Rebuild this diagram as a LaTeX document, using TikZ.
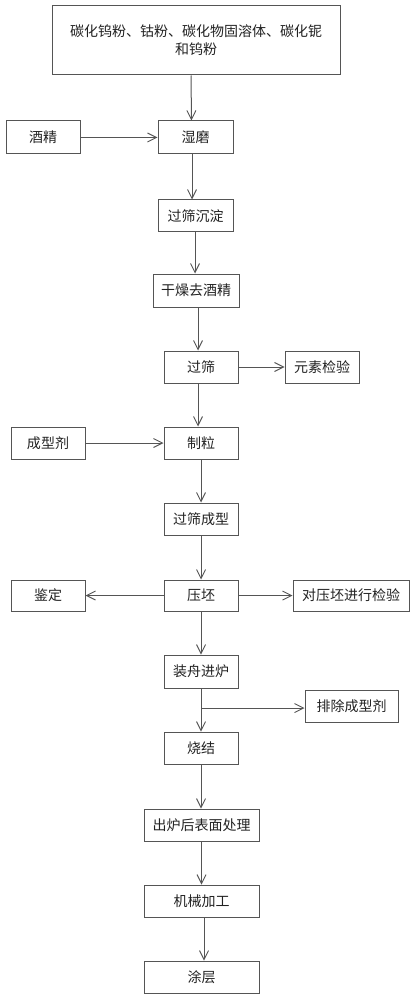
\documentclass[tikz,border=0pt]{standalone}
\usepackage{fontspec}
\setmainfont{Noto Sans CJK SC}
\usetikzlibrary{arrows.meta}
\definecolor{linec}{HTML}{555555}
\definecolor{txtc}{HTML}{222222}
\begin{document}
\begin{tikzpicture}[x=1pt,y=-1pt,
  box/.style={draw=linec,line width=1pt,inner sep=0pt,align=center,text=txtc,
    font=\fontsize{14}{18}\selectfont},
  arr/.style={draw=linec,line width=1pt,-{Straight Barb[length=9pt,width=9pt,line width=0.9pt]}}]
\useasboundingbox (0,0) rectangle (416,1000);
\node[box,minimum width=288pt,minimum height=69pt] (top) at (196,40.5) {碳化钨粉、钴粉、碳化物固溶体、碳化铌\\和钨粉};
\node[box,minimum width=74pt,minimum height=33pt] (alc) at (43,137.5) {酒精};
\node[box,minimum width=75pt,minimum height=33pt] (wet) at (195.5,137.5) {湿磨};
\node[box,minimum width=75pt,minimum height=32pt] (sed) at (195.5,216) {过筛沉淀};
\node[box,minimum width=86pt,minimum height=33pt] (dry) at (196,290.5) {干燥去酒精};
\node[box,minimum width=74pt,minimum height=32pt] (sieve) at (201,367) {过筛};
\node[box,minimum width=74pt,minimum height=32pt] (elem) at (322,367) {元素检验};
\node[box,minimum width=74pt,minimum height=32pt] (binder) at (48,443) {成型剂};
\node[box,minimum width=74pt,minimum height=32pt] (gran) at (201,443) {制粒};
\node[box,minimum width=74pt,minimum height=32pt] (sform) at (201,519) {过筛成型};
\node[box,minimum width=74pt,minimum height=31pt] (press) at (201,595.5) {压坯};
\node[box,minimum width=74pt,minimum height=31pt] (ident) at (48,595.5) {鉴定};
\node[box,minimum width=116pt,minimum height=31pt] (insp) at (351,595.5) {对压坯进行检验};
\node[box,minimum width=74pt,minimum height=33pt] (boat) at (201,671.5) {装舟进炉};
\node[box,minimum width=93pt,minimum height=32pt] (remove) at (351.5,706) {排除成型剂};
\node[box,minimum width=74pt,minimum height=32pt] (sinter) at (201,748) {烧结};
\node[box,minimum width=115pt,minimum height=32pt] (surf) at (201.5,825) {出炉后表面处理};
\node[box,minimum width=115pt,minimum height=32pt] (mach) at (201.5,901) {机械加工};
\node[box,minimum width=115pt,minimum height=32pt] (coat) at (201.5,977) {涂层};
\coordinate (br) at (201,708);
% connectors
\draw[arr] ([xshift=-5pt]top.south) -- ([xshift=-4.5pt]top.south |- wet.north);
\draw[arr] (alc) -- (wet);
\draw[arr] ([xshift=-3.5pt]wet.south) -- ([xshift=-3.5pt]wet.south |- sed.north);
\draw[arr] ([xshift=-0.5pt]sed.south) -- ([xshift=-0.5pt]sed.south |- dry.north);
\draw[arr] ([xshift=2pt]dry.south) -- ([xshift=2pt]dry.south |- sieve.north);
\draw[arr] (sieve.east) -- (sieve.east -| elem.west);
\draw[arr] ([xshift=-3pt]sieve.south) -- ([xshift=-3pt]sieve.south |- gran.north);
\draw[arr] (binder) -- (gran);
\draw[arr] (gran) -- (sform);
\draw[arr] (sform) -- (press);
\draw[arr] (press) -- (ident);
\draw[arr] (press) -- (insp);
\draw[arr] (press) -- (boat);
\draw[arr] (boat) -- (sinter);
\draw[arr] (br) -- (br -| remove.west);
\draw[arr] (sinter) -- (sinter.south |- surf.north);
\draw[arr] (surf) -- (mach);
\draw[arr] ([xshift=2.5pt]mach.south) -- ([xshift=2.5pt]mach.south |- coat.north);
\end{tikzpicture}
\end{document}
